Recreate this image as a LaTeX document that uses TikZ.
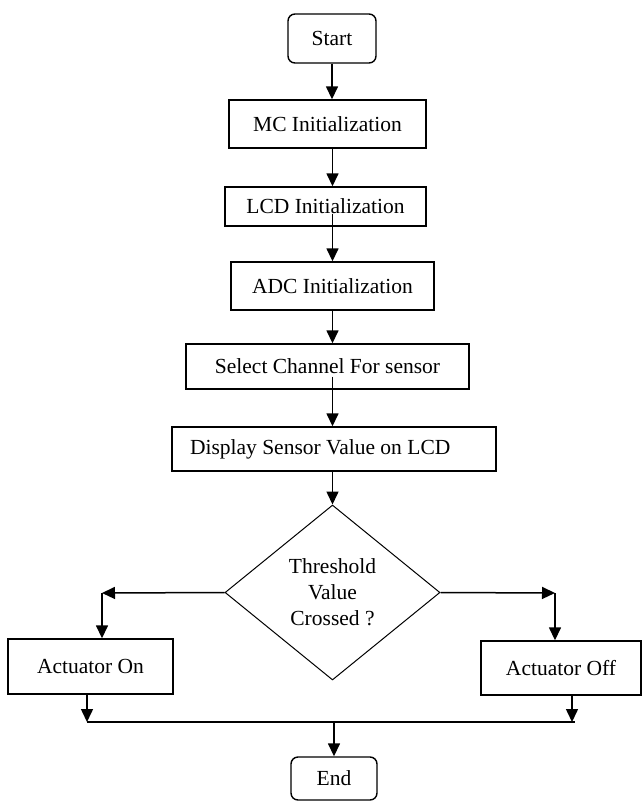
\documentclass[tikz,border=0pt]{standalone}
\usepackage{fontspec}
\setmainfont{Liberation Serif}
\usetikzlibrary{shapes.geometric,arrows.meta}
\begin{document}
\begin{tikzpicture}[x=1pt,y=-1pt,
    every node/.style={font=\fontsize{21.5}{26}\selectfont},
    box/.style={draw,line width=1.4pt,inner sep=0pt},
    term/.style={box,rounded corners=7pt},
    decision/.style={draw,diamond,line width=1pt,inner sep=0pt,align=center,
      minimum width=215pt,minimum height=175pt},
    arr/.style={line width=1.5pt,-{Triangle[length=13pt,width=12pt]}}]
  \useasboundingbox (0,0) rectangle (641,801);
  \draw
    (332,38.5) node[term,minimum width=88pt,minimum height=49pt] (start){Start}
    (327.5,124) node[box,minimum width=197pt,minimum height=48pt] (mc){MC Initialization}
    (325.5,206.5) node[box,minimum width=201pt,minimum height=39pt] (lcd){LCD Initialization}
    (332.5,286) node[box,minimum width=203pt,minimum height=48pt] (adc){ADC Initialization}
    (327.5,366.5) node[box,minimum width=283pt,minimum height=45pt] (sel){Select Channel For sensor}
    (334,449) node[box,minimum width=324pt,minimum height=44pt,text width=288pt,
      inner xsep=18pt,align=flush left] (disp){Display Sensor Value on LCD}
    (332.5,592.5) node[decision] (dec){Threshold\\Value\\Crossed ?}
    (90.5,666.5) node[box,minimum width=165pt,minimum height=55pt] (on){Actuator On}
    (561,668) node[box,minimum width=160pt,minimum height=54pt] (off){Actuator Off}
    (334,778.5) node[term,minimum width=86pt,minimum height=43pt] (end){End};
  \coordinate (lj) at (102,593);
  \coordinate (rj) at (555,593);
  \coordinate (onj) at (87,722);
  \coordinate (offj) at (572,722);
  \begin{scope}[arr]
    \draw (start.south) -- (start.south |- mc.north);
    \draw (mc.south -| dec.north) -- (lcd.north -| dec.north);
    \draw ([yshift=-7pt]lcd.center -| adc.north) -- (adc.north);
    \draw (adc.south -| dec.north) -- (sel.north -| dec.north);
    \draw ([yshift=-10pt]sel.center -| dec.north) -- (disp.north -| dec.north);
    \draw (disp.south -| dec.north) -- (dec.north);
    \draw (dec.west) -- (lj);
    \draw (lj) -- (lj |- on.north);
    \draw (dec.east) -- (rj);
    \draw (rj) -- (rj |- off.north);
    \draw (on.south -| onj) -- (onj);
    \draw (off.south -| offj) -- (offj);
    \draw (end.north |- onj) -- (end.north);
  \end{scope}
  \draw[line width=1.6pt] (onj) -- ([xshift=3pt]offj);
\end{tikzpicture}
\end{document}
